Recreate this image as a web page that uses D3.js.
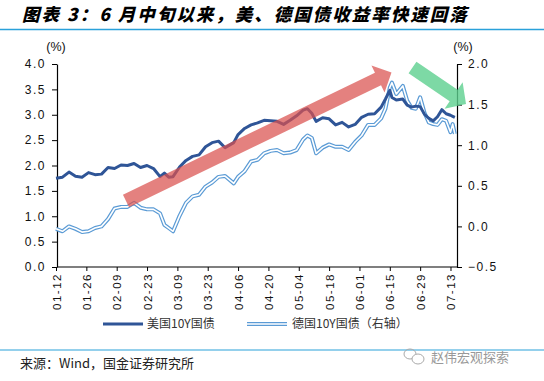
<!DOCTYPE html>
<html><head><meta charset="utf-8">
<script src="https://cdn.jsdelivr.net/npm/d3@7"></script>
<style>
html,body{margin:0;padding:0;background:#fff;}
svg{display:block;}
</style></head>
<body>
<svg id="chart" width="544" height="381"></svg>
<script>
const dates = ["01-12","01-15","01-18","01-21","01-24","01-27","01-30","02-02","02-05","02-08",
"02-11","02-14","02-17","02-20","02-23","02-26","03-01","03-03","03-05","03-07",
"03-10","03-13","03-16","03-19","03-22","03-25","03-28","03-31","04-04","04-06",
"04-09","04-12","04-15","04-18","04-21","04-24","04-27","04-30","05-03","05-06",
"05-08","05-10","05-12","05-15","05-18","05-21","05-24","05-27","05-30","06-02",
"06-05","06-08","06-11","06-13","06-15","06-16","06-18","06-21","06-23","06-25",
"06-27","06-29","07-01","07-03","07-05","07-07","07-09","07-11","07-13","07-14","07-15"];
const us10y = [1.75,1.77,1.87,1.79,1.77,1.86,1.82,1.83,1.96,1.94,
2.01,2.00,2.04,1.96,2.00,1.94,1.78,1.85,1.77,1.78,
1.97,2.10,2.18,2.21,2.37,2.45,2.48,2.35,2.45,2.61,
2.73,2.80,2.84,2.89,2.88,2.87,2.81,2.89,2.98,3.09,
3.12,3.03,2.87,2.94,2.92,2.80,2.85,2.76,2.81,2.95,
3.01,3.02,3.15,3.31,3.48,3.34,3.29,3.31,3.19,3.15,
3.17,3.16,3.01,2.93,2.88,2.96,3.10,3.02,2.99,2.97,2.95];
const de10y = [-0.03,-0.06,0.00,-0.03,-0.07,-0.06,-0.02,0.00,0.09,0.22,
0.24,0.24,0.29,0.23,0.21,0.21,0.16,0.02,-0.02,-0.06,
0.13,0.29,0.37,0.39,0.49,0.54,0.61,0.62,0.53,0.61,
0.68,0.80,0.82,0.90,0.93,0.94,0.90,0.91,0.94,1.07,
1.12,1.09,0.90,0.97,1.01,0.98,0.98,0.94,1.04,1.12,
1.25,1.25,1.33,1.45,1.71,1.77,1.63,1.73,1.55,1.46,
1.45,1.59,1.40,1.28,1.26,1.25,1.32,1.30,1.16,1.26,1.14];
const xTickLabels = ["01-12","01-26","02-09","02-23","03-09","03-23","04-06","04-20","05-04","05-18","06-01","06-15","06-29","07-13"];
const leftTicks = [0,0.5,1.0,1.5,2.0,2.5,3.0,3.5,4.0];
const rightTicks = [-0.5,0,0.5,1.0,1.5,2.0];
const seriesNames = ["美国10Y国债","德国10Y国债（右轴）"];
const titleText = "图表 3：6 月中旬以来，美、德国债收益率快速回落";
const sourceText = "来源：Wind，国金证券研究所";

const parse = s => d3.timeParse("%Y-%m-%d")("2021-" + s);
const svg = d3.select("#chart");
const cjk = "'Noto Sans CJK SC', 'Liberation Sans', sans-serif";
const latin = "'Liberation Sans', Arial, sans-serif";

// title
svg.append("text").attr("x",22).attr("y",21).text(titleText)
  .attr("font-family",cjk).attr("font-size",17.5).attr("font-weight","900")
  .attr("font-style","italic").attr("fill","#000").style("letter-spacing","2px");
svg.append("line").attr("x1",0).attr("x2",544).attr("y1",29.5).attr("y2",29.5)
  .attr("stroke","#2aa1da").attr("stroke-width",1.5);

const x = d3.scaleTime().domain([parse("01-12"), parse("07-16")]).range([56,457]);
const yL = d3.scaleLinear().domain([0,4]).range([267,64]);
const yR = d3.scaleLinear().domain([-0.5,2]).range([267,64]);

const fmt = d3.format(".1f");
const axL = svg.append("g").attr("transform","translate(57,0)")
  .call(d3.axisLeft(yL).tickValues(leftTicks).tickFormat(fmt).tickSize(5).tickSizeOuter(0));
const axR = svg.append("g").attr("transform","translate(457,0)")
  .call(d3.axisRight(yR).tickValues(rightTicks).tickFormat(fmt).tickSize(5).tickSizeOuter(0));
const axB = svg.append("g").attr("transform","translate(0,267)")
  .call(d3.axisBottom(x).tickValues(xTickLabels.map(parse)).tickFormat(d3.timeFormat("%m-%d")).tickSize(4).tickSizeOuter(0));
axB.select(".domain").attr("d","M57,0H457");
[axL,axR,axB].forEach(a=>{
  a.selectAll(".domain").attr("stroke","#000").attr("stroke-width",1.2);
  a.selectAll(".tick line").attr("stroke","#000");
  a.selectAll("text").attr("font-family",latin).attr("font-size",12).attr("fill","#111")
   .style("letter-spacing","1.5px");
});
axL.selectAll("text").attr("x",-11);
axR.selectAll("text").attr("x",11);
axB.selectAll("text").attr("font-size",11.5).attr("transform","rotate(-90)")
  .attr("text-anchor","end").attr("x",-6).attr("y",0).attr("dy","0.35em");

svg.append("text").attr("x",56).attr("y",51).attr("text-anchor","middle").text("(%)")
  .attr("font-family",latin).attr("font-size",12.5).attr("fill","#111");
svg.append("text").attr("x",463).attr("y",51).attr("text-anchor","middle").text("(%)")
  .attr("font-family",latin).attr("font-size",12.5).attr("fill","#111");

const pts = dates.map(parse);
const lineDE = d3.line().x((d,i)=>x(pts[i])).y(d=>yR(d)).curve(d3.curveLinear);
const lineUS = d3.line().x((d,i)=>x(pts[i])).y(d=>yL(d)).curve(d3.curveLinear);

svg.append("path").datum(de10y).attr("d",lineDE).attr("fill","none")
  .attr("stroke","#5b9bd5").attr("stroke-width",4).attr("stroke-linejoin","round");
svg.append("path").datum(de10y).attr("d",lineDE).attr("fill","none")
  .attr("stroke","#fff").attr("stroke-width",1.6).attr("stroke-linejoin","round");
svg.append("path").datum(us10y).attr("d",lineUS).attr("fill","none")
  .attr("stroke","#2f5597").attr("stroke-width",3).attr("stroke-linejoin","round");

function arrow(T,P,w,hw,hl){
  const dx=P[0]-T[0], dy=P[1]-T[1], L=Math.hypot(dx,dy);
  const u=[dx/L,dy/L], n=[-u[1],u[0]];
  const B=[P[0]-u[0]*hl, P[1]-u[1]*hl];
  const p=(o,k)=>[o[0]+n[0]*k, o[1]+n[1]*k];
  return [p(T,w/2),p(B,w/2),p(B,hw/2),P,p(B,-hw/2),p(B,-w/2),p(T,-w/2)];
}
svg.append("polygon").attr("points",arrow([126,201],[391.5,72.5],14,30,15).join(" "))
  .attr("fill","#d9504e").attr("fill-opacity",0.72);
svg.append("polygon").attr("points",arrow([412.5,67.5],[466,104],14,32,15).join(" "))
  .attr("fill","#5ccf8f").attr("fill-opacity",0.8);

// legend
const lg = svg.append("g").attr("transform","translate(0,324)");
lg.append("line").attr("x1",103).attr("x2",143).attr("stroke","#2f5597").attr("stroke-width",3);
lg.append("text").attr("x",147).attr("y",0).attr("dy","0.35em").text(seriesNames[0])
  .attr("font-family",cjk).attr("font-size",12).attr("fill","#333");
lg.append("line").attr("x1",247).attr("x2",287).attr("stroke","#5b9bd5").attr("stroke-width",4);
lg.append("line").attr("x1",247).attr("x2",287).attr("stroke","#fff").attr("stroke-width",1.6);
lg.append("text").attr("x",292).attr("y",0).attr("dy","0.35em").text(seriesNames[1])
  .attr("font-family",cjk).attr("font-size",12).attr("fill","#333");

// footer
svg.append("line").attr("x1",0).attr("x2",544).attr("y1",350).attr("y2",350)
  .attr("stroke","#2aa1da").attr("stroke-width",1.2);
svg.append("text").attr("x",20).attr("y",368).text(sourceText)
  .attr("font-family",cjk).attr("font-size",13).attr("fill","#222");
const wm = svg.append("g").attr("fill","none").attr("stroke","#aaa").attr("stroke-width",1);
wm.append("ellipse").attr("cx",410).attr("cy",354).attr("rx",6).attr("ry",5);
wm.append("ellipse").attr("cx",418).attr("cy",359).attr("rx",6).attr("ry",5).attr("fill","#fff");
svg.append("text").attr("x",431).attr("y",362).text("赵伟宏观探索")
  .attr("font-family",cjk).attr("font-size",13).attr("fill","#999");
</script>
</body></html>
